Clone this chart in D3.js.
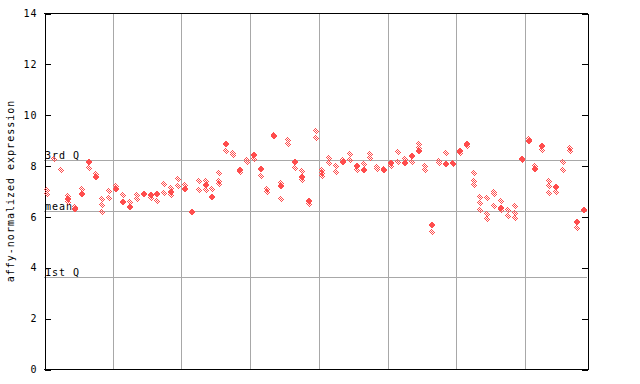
<!DOCTYPE html>
<html>
<head>
<meta charset="utf-8">
<script src="https://cdn.jsdelivr.net/npm/d3@7"></script>
<style>
  body { margin: 0; background: #fff; }
  text { font-family: "DejaVu Sans Mono", monospace; font-size: 10px; letter-spacing: 1px; fill: #000; }
</style>
</head>
<body>
<script>
/* Data: one entry per sample, left to right */
// hatched (checkered) points
var hollowVals = [
  [7.05, 6.88], [8.26], [7.83], [6.82, 6.55], [6.39], [7.08], [7.92], [7.65],
  [6.68, 6.46, 6.17], [7.0, 6.72], [7.21], [6.85], [6.58], [6.85, 6.68], [], [6.71],
  [6.6], [7.29, 6.93], [7.12, 6.85], [7.47, 7.21], [7.22], [], [7.40, 7.05], [7.40, 7.05],
  [7.08], [7.71, 7.40, 7.27], [8.56], [8.5, 8.4], [7.75], [8.22, 8.15], [8.26], [7.60],
  [7.09, 6.96], [9.22], [7.3, 6.68], [9.02, 8.85], [7.90], [7.77, 7.44], [6.48], [9.34, 9.08],
  [7.84, 7.71, 7.6], [8.30, 8.12], [7.97, 7.75], [8.22], [8.45, 8.20], [7.84], [8.07], [8.45, 8.30],
  [7.95, 7.85], [7.88], [7.97], [8.53, 8.16], [8.26], [8.16], [8.85, 8.69], [8.0, 7.84],
  [5.39], [8.19, 8.12], [8.49], [8.12, 8.05], [8.48], [8.78], [7.71, 7.38, 7.25], [6.76, 6.53, 6.26],
  [6.72, 6.09, 5.90], [6.95, 6.88, 6.42], [6.59, 6.24], [6.26, 6.03], [6.42, 6.13, 5.94], [8.2], [9.03], [7.97],
  [8.62], [7.40, 7.18, 6.92], [6.96], [8.14, 7.83], [8.69, 8.56], [5.54], []
];
// solid points
var filledVals = [
  [], [], [], [6.70], [6.29], [6.89], [8.16], [7.57],
  [], [], [7.08], [6.58], [6.38], [], [6.9], [6.85],
  [6.88], [], [6.95], [], [7.08], [6.16], [], [7.22],
  [6.78], [], [8.86], [], [7.84], [], [8.40], [7.88],
  [], [9.15], [7.18], [], [8.16], [7.55], [6.59], [],
  [], [], [], [8.14], [], [8.0], [7.84], [],
  [], [7.81], [8.09], [], [8.12], [8.36], [8.56], [],
  [5.67], [], [8.07], [], [8.56], [8.86], [], [],
  [], [], [6.33], [], [], [8.26], [8.95], [7.88],
  [8.76], [], [7.14], [], [], [5.77], [6.24]
];
var yTicks = [0, 2, 4, 6, 8, 10, 12, 14];
var gridX = [10, 20, 30, 40, 50, 60, 70];
var refNames = ["3rd Q", "mean", "1st Q"];
var refVals = [8.23, 6.2, 3.62];

/* Constants */
const w = 640, h = 384;
const padL = 44, padR = 587, padT = 13, padB = 369;
const red = "#ff4d4d";

const svg = d3.select("body").append("svg")
  .attr("width", w)
  .attr("height", h);

const defs = svg.append("defs");
const pat = defs.append("pattern")
  .attr("id", "checker")
  .attr("patternUnits", "userSpaceOnUse")
  .attr("width", 2).attr("height", 2);
pat.append("rect").attr("x", 0).attr("y", 0).attr("width", 1).attr("height", 1).attr("fill", red);
pat.append("rect").attr("x", 1).attr("y", 1).attr("width", 1).attr("height", 1).attr("fill", red);

/* Scales */
const xScale = d3.scaleLinear().domain([0, hollowVals.length]).range([padL, padR]);
const yScale = d3.scaleLinear().domain([0, 14]).range([padB, padT]);

/* Grid */
svg.append("g").selectAll("line")
  .data(gridX).enter().append("line")
  .attr("x1", d => Math.round(xScale(d)) + 0.5)
  .attr("x2", d => Math.round(xScale(d)) + 0.5)
  .attr("y1", padT).attr("y2", padB)
  .attr("stroke", "#a8a8a8");

svg.append("g").selectAll("line")
  .data(refVals).enter().append("line")
  .attr("x1", padL).attr("x2", padR)
  .attr("y1", d => Math.round(yScale(d)) + 0.5)
  .attr("y2", d => Math.round(yScale(d)) + 0.5)
  .attr("stroke", "#a8a8a8");

svg.append("g").selectAll("text")
  .data(refNames).enter().append("text")
  .attr("x", padL + 1)
  .attr("y", (d, i) => Math.round(yScale(refVals[i])) - 1)
  .text(d => d);

/* Axes */
const yAxis = d3.axisLeft(yScale).tickValues(yTicks).tickSize(-6).tickSizeOuter(0).tickPadding(7);
const gy = svg.append("g")
  .attr("transform", "translate(" + (padL + 0.5) + ",0.5)")
  .call(yAxis);
gy.selectAll("text").style("font-size", "10px").attr("font-family", null);

const yAxisR = d3.axisRight(yScale).tickValues(yTicks).tickSize(-6).tickSizeOuter(0).tickFormat("");
svg.append("g")
  .attr("transform", "translate(" + (padR + 0.5) + ",0.5)")
  .call(yAxisR);

svg.selectAll(".domain, .tick line").attr("stroke", "#000").attr("shape-rendering", "crispEdges");
svg.selectAll("g").attr("font-family", null).attr("font-size", null);

// top and bottom frame
svg.append("line").attr("x1", padL).attr("x2", padR + 1)
  .attr("y1", padT + 0.5).attr("y2", padT + 0.5).attr("stroke", "#000");
svg.append("line").attr("x1", padL).attr("x2", padR + 1)
  .attr("y1", padB + 0.5).attr("y2", padB + 0.5).attr("stroke", "#000");

svg.append("text")
  .attr("transform", "translate(14," + ((padT + padB) / 2) + ") rotate(-90)")
  .attr("text-anchor", "middle")
  .text("affy-normalized expression");

/* Points */
const diamond = "M0,-3.5L3,0L0,3.5L-3,0Z";

let flat = (arr) => {
  let out = [];
  arr.forEach((vals, i) => vals.forEach(v => out.push({ i: i, v: v })));
  return out;
};

svg.append("g").selectAll("path")
  .data(flat(hollowVals)).enter().append("path")
  .attr("d", diamond)
  .attr("transform", d => "translate(" + Math.round(xScale(d.i + 0.5)) + "," + Math.round(yScale(d.v)) + ")")
  .attr("fill", "url(#checker)")
  .attr("shape-rendering", "crispEdges");

svg.append("g").selectAll("path")
  .data(flat(filledVals)).enter().append("path")
  .attr("d", diamond)
  .attr("transform", d => "translate(" + Math.round(xScale(d.i + 0.5)) + "," + Math.round(yScale(d.v)) + ")")
  .attr("fill", red)
  .attr("shape-rendering", "crispEdges");
</script>
</body>
</html>
